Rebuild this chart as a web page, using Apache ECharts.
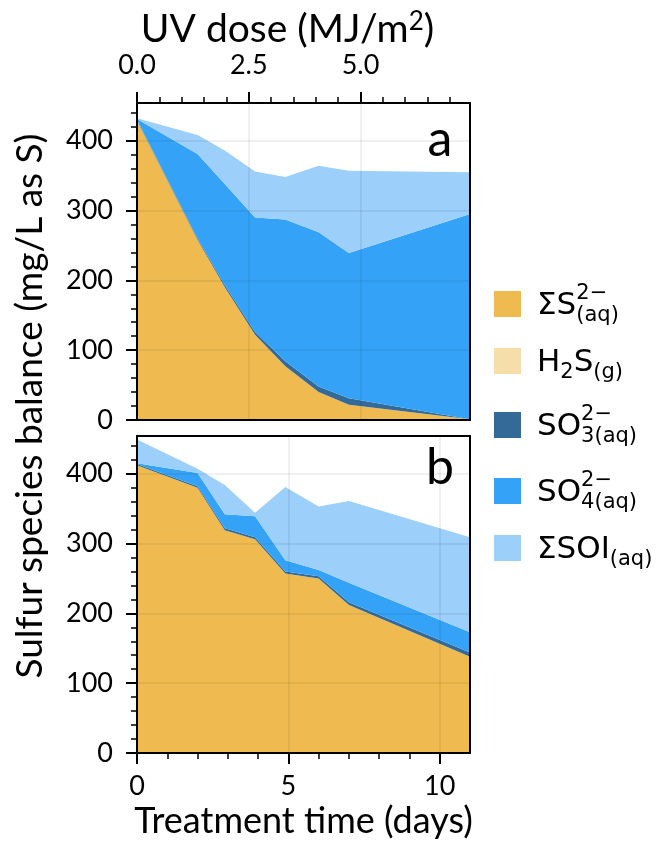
<!DOCTYPE html>
<html>
<head>
<meta charset="utf-8">
<script src="https://cdn.jsdelivr.net/npm/echarts@6/dist/echarts.min.js"></script>
<style>
    html, body { margin: 0; padding: 0; background: #fff; }
    #chart { width: 671px; height: 850px; }
</style>
</head>
<body>
<div id="chart"></div>
<script>
// sampling times (days)
const days = [0, 2, 2.9, 3.9, 4.9, 6, 7, 11];

// panel a (mg/L as S), stacked bottom -> top
const sulfideA = [429, 258, 190, 122, 77, 40, 22, 1];
const h2sA     = [0, 0, 0, 0, 0, 0, 0, 0];
const sulfiteA = [1, 2, 3, 4, 7, 8, 9, 0];
const sulfateA = [1, 121, 145, 164, 203, 221, 208, 294];
const soiA     = [1, 27, 48, 66, 61, 95, 118, 60];

// panel b
const sulfideB = [412, 380, 319, 306, 257, 250, 212, 138];
const h2sB     = [0, 0, 0, 0, 0, 0, 0, 0];
const sulfiteB = [2, 2, 3, 3, 3, 3, 4, 6];
const sulfateB = [1, 19, 20, 30, 16, 9, 28, 29];
const soiB     = [34, 6, 42, 5, 105, 91, 117, 136];

const yTicks = [0, 100, 200, 300, 400];
const dayTicks = [0, 5, 10];
const uvTicks = [0, 2.5, 5.0];
const uvMax = 7.45;   // UV dose reached at day 11
const yMax = 454;
const dayMax = 11;
const panelLabels = ['a', 'b'];

const speciesNames = ['ΣS2-(aq)', 'H2S(g)', 'SO32-(aq)', 'SO42-(aq)', 'ΣSOI(aq)'];
const speciesColors = ['#efbb50', '#f6deab', '#346a98', '#34a3f7', '#9ccffa'];
// legend label pieces: sup/sub scripts, "stack" = next piece starts at same x
const speciesLabels = [
    [{ t: 'ΣS' }, { t: '2−', sup: true, stack: true }, { t: '(aq)', sub: true }],
    [{ t: 'H' }, { t: '2', sub: true }, { t: 'S' }, { t: '(g)', sub: true }],
    [{ t: 'SO' }, { t: '2−', sup: true, stack: true }, { t: '3(aq)', sub: true }],
    [{ t: 'SO' }, { t: '2−', sup: true, stack: true }, { t: '4(aq)', sub: true }],
    [{ t: 'ΣSOI' }, { t: '(aq)', sub: true }]
];

const panelA = [sulfideA, h2sA, sulfiteA, sulfateA, soiA];
const panelB = [sulfideB, h2sB, sulfiteB, sulfateB, soiB];

const chart = echarts.init(document.getElementById('chart'));

const black = '#000';
const frame = { show: true, onZero: false, lineStyle: { color: black, width: 2 } };
const gridLine = { show: true, lineStyle: { color: 'rgba(0,0,0,0.08)', width: 1.5 } };
const labelFont = { fontFamily: 'Lato', fontSize: 27, color: black };
const minor = { show: true, splitNumber: 5, length: 6, lineStyle: { color: black, width: 1.5 } };

function majorTick(values) {
    return { show: true, customValues: values, length: 11, lineStyle: { color: black, width: 2 } };
}

function frameAxis(extra) {
    return Object.assign({
        type: 'value', z: 5, axisLine: frame,
        axisTick: { show: false }, axisLabel: { show: false }, splitLine: { show: false }
    }, extra);
}

function yLeft(gridIndex) {
    return {
        type: 'value', gridIndex, position: 'left', min: 0, max: yMax, interval: 100, z: 5,
        axisLine: frame,
        axisTick: majorTick(yTicks),
        minorTick: minor,
        axisLabel: Object.assign({ customValues: yTicks, margin: 24 }, labelFont),
        splitLine: gridLine
    };
}

// value is put first so the stack runs on the y dimension
function buildSeries(layers, stack, xIndex, yIndex) {
    return layers.map((vals, k) => ({
        name: speciesNames[k],
        type: 'line',
        stack,
        xAxisIndex: xIndex,
        yAxisIndex: yIndex,
        encode: { x: 1, y: 0 },
        symbol: 'none',
        lineStyle: { width: 0 },
        areaStyle: { color: speciesColors[k], opacity: 1 },
        itemStyle: { color: speciesColors[k] },
        data: days.map((d, i) => [vals[i], d])
    }));
}

// legend drawn as graphics so that super/subscripts can stack
const legendFont = 'DejaVu Sans';
const mainSize = 31, scriptSize = 21;
const legendRowY = [316, 373, 437, 503, 560];   // text baselines
const ctx = document.createElement('canvas').getContext('2d');
function textWidth(t, size) {
    ctx.font = size + 'px "' + legendFont + '"';
    return ctx.measureText(t).width;
}
const legendGraphics = [];
speciesLabels.forEach((pieces, k) => {
    const base = legendRowY[k];
    legendGraphics.push({
        type: 'rect',
        shape: { x: 494, y: base - 25, width: 27, height: 26 },
        style: { fill: speciesColors[k] }
    });
    let x = 537;
    pieces.forEach(p => {
        const size = p.sup || p.sub ? scriptSize : mainSize;
        const y = p.sup ? base - 16 : p.sub ? base + 6 : base;
        legendGraphics.push({
            type: 'text',
            style: {
                text: p.t, x, y: y - 0.33 * size,
                font: size + 'px "' + legendFont + '"',
                fill: black, align: 'left', verticalAlign: 'middle'
            }
        });
        if (!p.stack) x += textWidth(p.t, size);
    });
});

const option = {
    animation: false,
    grid: [
        { left: 137, top: 103, width: 333, height: 317 },
        { left: 137, top: 436, width: 333, height: 317 }
    ],
    xAxis: [
        // panel a: days (bottom frame only)
        frameAxis({ gridIndex: 0, position: 'bottom', min: 0, max: dayMax }),
        // panel a: UV dose on top
        {
            type: 'value', gridIndex: 0, position: 'top', min: 0, max: uvMax, interval: 2.5, z: 5,
            name: 'UV dose (MJ/m{sup|2})', nameLocation: 'middle', nameGap: 53,
            nameTextStyle: {
                fontFamily: 'Lato', fontSize: 39, color: black, padding: [0, 32, 0, 0],
                rich: { sup: { fontFamily: 'Lato', fontSize: 26, color: black, verticalAlign: 'top', padding: [0, 0, 15, 0] } }
            },
            axisLine: frame,
            axisTick: majorTick(uvTicks),
            minorTick: minor,
            axisLabel: Object.assign({ customValues: uvTicks, margin: 24, formatter: v => v.toFixed(1) }, labelFont),
            splitLine: gridLine
        },
        // panel b: days
        {
            type: 'value', gridIndex: 1, position: 'bottom', min: 0, max: dayMax, interval: 5, z: 5,
            name: 'Treatment time (days)', nameLocation: 'middle', nameGap: 50,
            nameTextStyle: { fontFamily: 'Lato', fontSize: 36, color: black },
            axisLine: frame,
            axisTick: majorTick(dayTicks),
            minorTick: minor,
            axisLabel: Object.assign({ customValues: dayTicks, margin: 20 }, labelFont),
            splitLine: gridLine
        },
        frameAxis({ gridIndex: 1, position: 'top', min: 0, max: dayMax })
    ],
    yAxis: [
        yLeft(0),
        frameAxis({ gridIndex: 0, position: 'right', min: 0, max: yMax }),
        yLeft(1),
        frameAxis({ gridIndex: 1, position: 'right', min: 0, max: yMax })
    ],
    series: [
        ...buildSeries(panelA, 'a', 0, 0),
        ...buildSeries(panelB, 'b', 2, 2)
    ],
    graphic: [
        {
            type: 'text', x: 30, y: 406, rotation: Math.PI / 2,
            style: {
                text: 'Sulfur species balance (mg/L as S)', font: '37px Lato',
                fill: black, align: 'center', verticalAlign: 'middle'
            }
        },
        {
            type: 'text', x: 440, y: 140,
            style: { text: panelLabels[0], font: '50px Lato', fill: black, align: 'center', verticalAlign: 'middle' }
        },
        {
            type: 'text', x: 440, y: 468,
            style: { text: panelLabels[1], font: '50px Lato', fill: black, align: 'center', verticalAlign: 'middle' }
        },
        ...legendGraphics
    ]
};

chart.setOption(option);
</script>
</body>
</html>
